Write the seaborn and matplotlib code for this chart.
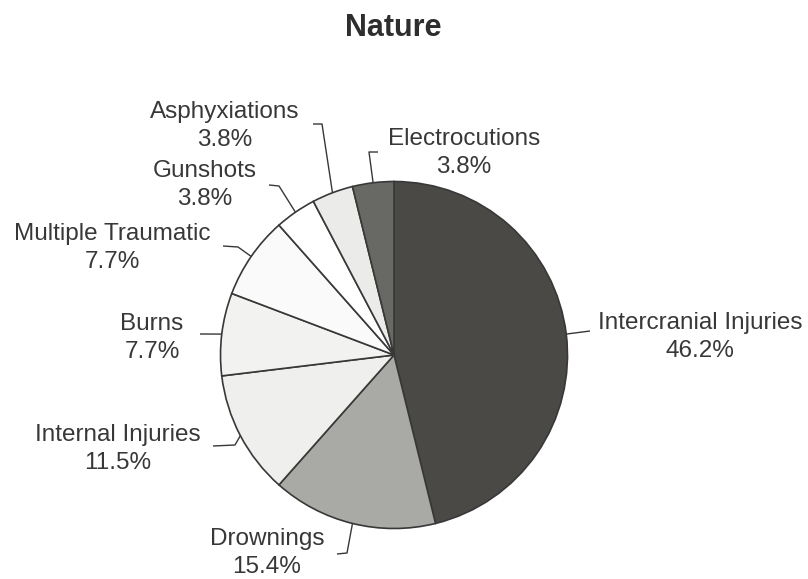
import numpy as np
import matplotlib
matplotlib.use("Agg")
import matplotlib.pyplot as plt
import seaborn as sns

# Data (case counts, out of 26)
categories = ["Intercranial Injuries", "Drownings", "Internal Injuries", "Burns",
              "Multiple Traumatic", "Gunshots", "Asphyxiations", "Electrocutions"]
counts = [12, 4, 3, 2, 2, 1, 1, 1]
shades = ["#4a4946", "#a9a9a5", "#efefed", "#f2f2f0",
          "#fafafa", "#ffffff", "#ebebe9", "#686864"]

# Label layout in image pixels (x, y down): text centre, leader kink, leader end
label_pos = [(700, 337), (267, 553), (118, 449), (152, 338),
             (112, 248), (205, 185), (225, 126), (464, 153)]
leader_kink = [(590, 331), (347, 553), (235, 445), (200, 334),
               (238, 247), (279, 186), (322, 124), (369, 152)]
leader_end = [(590, 331), (337, 554), (213, 446), (200, 334),
              (223, 246), (269, 185), (313, 124), (378, 152)]

W, H = 808, 579
CENTER = (394, 355)
RADIUS = 173.5
INK = "#383838"


def px(x, y):
    """Image pixel coordinates -> data coordinates."""
    return x, H - y


sns.set_theme(style="white")
plt.rcParams["font.family"] = ["Liberation Sans", "DejaVu Sans"]

fig = plt.figure(figsize=(W / 100, H / 100), dpi=100)
ax = fig.add_axes([0, 0, 1, 1])

wedges, _ = ax.pie(counts, colors=shades, startangle=90, counterclock=False,
                   radius=RADIUS, center=px(*CENTER),
                   wedgeprops=dict(edgecolor=INK, linewidth=1.2))

total = sum(counts)
cx, cy = px(*CENTER)
for i, w in enumerate(wedges):
    mid = np.deg2rad((w.theta1 + w.theta2) / 2)
    ex, ey = cx + RADIUS * np.cos(mid), cy + RADIUS * np.sin(mid)
    kx, ky = px(*leader_kink[i])
    lx, ly = px(*leader_end[i])
    ax.plot([ex, kx, lx], [ey, ky, ly], color=INK, lw=1.0, solid_capstyle="butt")
    pct = 100 * counts[i] / total
    tx, ty = px(*label_pos[i])
    ax.text(tx, ty, f"{categories[i]}\n{pct:.1f}%", ha="center", va="center",
            fontsize=17.5, color=INK, linespacing=1.34)

ax.text(*px(393, 28), "Nature", ha="center", va="center",
        fontsize=22, fontweight="bold", color="#2e2e2e")

ax.set_xlim(0, W)
ax.set_ylim(0, H)
ax.set_aspect("equal")
ax.axis("off")

fig.savefig("out.png", dpi=100)
